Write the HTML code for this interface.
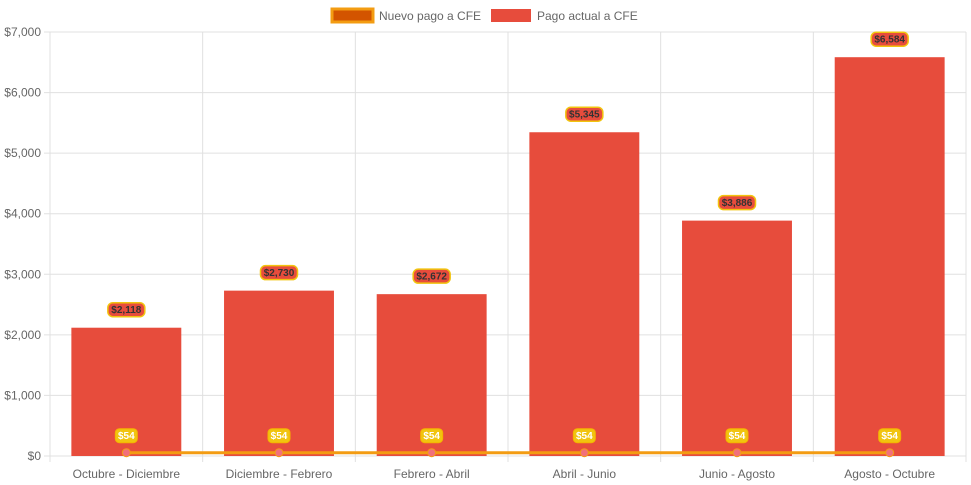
<!DOCTYPE html>
<html><head><meta charset="utf-8"><style>
html,body{margin:0;padding:0;background:#fff;}
svg{display:block;font-family:"Liberation Sans",Arial,sans-serif;}
</style></head><body>
<svg id="chart" width="971" height="485"></svg>
<script>
const categories=["Octubre - Diciembre","Diciembre - Febrero","Febrero - Abril","Abril - Junio","Junio - Agosto","Agosto - Octubre"];
const actualValues=[2118,2730,2672,5345,3886,6584];
const newValues=[54,54,54,54,54,54];
const yTicks=[0,1000,2000,3000,4000,5000,6000,7000];
const yTickLabels=["$0","$1,000","$2,000","$3,000","$4,000","$5,000","$6,000","$7,000"];

const svg=document.getElementById('chart');
const NS='http://www.w3.org/2000/svg';
const L=50,R=966,T=32,B=456,YMAX=7000;
const bw=(R-L)/categories.length;
function xc(i){return L+bw*(i+0.5);}
function y(v){return B-(v/YMAX)*(B-T);}
function mk(tag,attrs,parent){const e=document.createElementNS(NS,tag);for(const k in attrs)e.setAttribute(k,attrs[k]);(parent||svg).appendChild(e);return e;}
function fmt(v){return "$"+v.toLocaleString('en-US');}

// grid
yTicks.forEach((t,i)=>{
  const g=mk('line',{x1:L-6,x2:R,y1:y(t),y2:y(t),stroke:'#e0e0e0','stroke-width':1});
  
  
  const tx=mk('text',{x:L-9,y:y(t)+4,'text-anchor':'end','font-size':12,fill:'#666'});
  tx.textContent=yTickLabels[i];
  
  
});
for(let i=0;i<=categories.length;i++){
  const g=mk('line',{x1:L+bw*i,x2:L+bw*i,y1:T,y2:B+6,stroke:'#e0e0e0','stroke-width':1});
  
  
}
categories.forEach((c,i)=>{
  const tx=mk('text',{x:xc(i),y:B+22,'text-anchor':'middle','font-size':12,fill:'#666'});
  tx.textContent=c;
  
  
});
// bars
actualValues.forEach((v,i)=>{
  const w=bw*0.72;
  const r=mk('rect',{x:xc(i)-w/2,y:y(v),width:w,height:B-y(v),fill:'#e74c3c'});
  
  
});
// line
const pts=newValues.map((v,i)=>xc(i)+','+y(v)).join(' ');
const pl=mk('polyline',{points:pts,fill:'none',stroke:'#f39c12','stroke-width':3});


newValues.forEach((v,i)=>{
  const c=mk('circle',{cx:xc(i),cy:y(v),r:4,fill:'#f1707a',stroke:'#f39c12','stroke-width':1});
  
  
  const w=22,yy=y(v)-17;
  const b=mk('rect',{x:xc(i)-w/2,y:yy-7,width:w,height:14,rx:4,fill:'#f1c40f',stroke:'#f5b300','stroke-width':1});
  
  
  const t=mk('text',{x:xc(i),y:yy+3.5,'text-anchor':'middle','font-size':10,'font-weight':'bold',fill:'#fff'});
  t.textContent=fmt(v);
  
  
});
actualValues.forEach((v,i)=>{
  const w=37,yy=y(v)-18;
  const b=mk('rect',{x:xc(i)-w/2,y:yy-7,width:w,height:14,rx:5,fill:'#e74c3c',stroke:'#f1c40f','stroke-width':1.5});
  
  
  const t=mk('text',{x:xc(i),y:yy+3.5,'text-anchor':'middle','font-size':10,'font-weight':'bold',fill:'#333'});
  t.textContent=fmt(v);
  
  
});
// legend
const lg=mk('g',{});


const r1=mk('rect',{x:332,y:9,width:41,height:13,fill:'#d35400',stroke:'#f39c12','stroke-width':3},lg);


const t1=mk('text',{x:379,y:20,'font-size':12,fill:'#666'},lg);
t1.textContent='Nuevo pago a CFE';


const r2=mk('rect',{x:491,y:9,width:40,height:13,fill:'#e74c3c'},lg);


const t2=mk('text',{x:537,y:20,'font-size':12,fill:'#666'},lg);
t2.textContent='Pago actual a CFE';


</script>
</body></html>
